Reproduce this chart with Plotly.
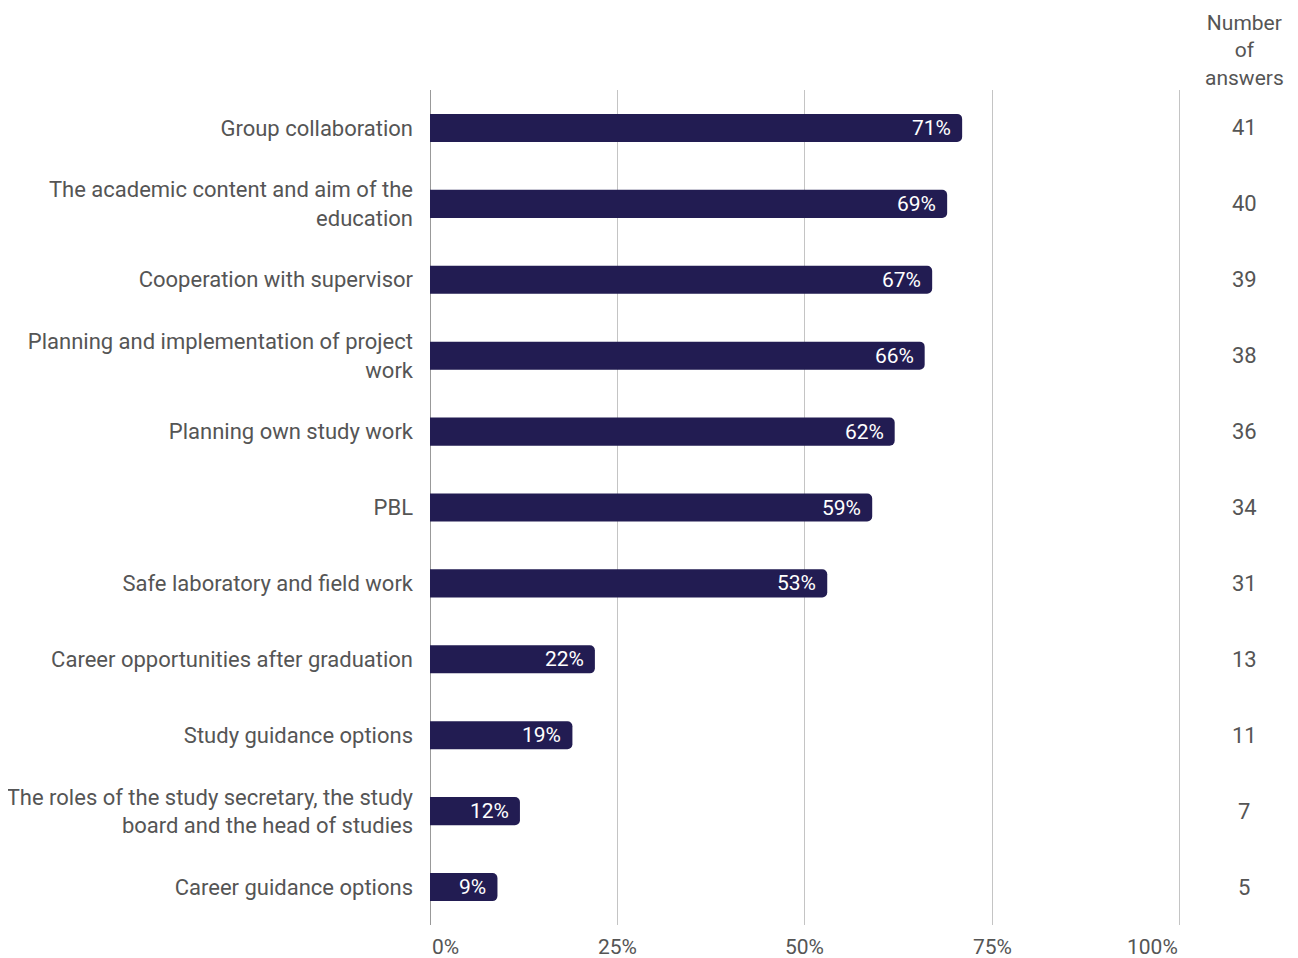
import plotly.graph_objects as go

categories = [
    "Group collaboration",
    "The academic content and aim of the<br>education",
    "Cooperation with supervisor",
    "Planning and implementation of project<br>work",
    "Planning own study work",
    "PBL",
    "Safe laboratory and field work",
    "Career opportunities after graduation",
    "Study guidance options",
    "The roles of the study secretary, the study<br>board and the head of studies",
    "Career guidance options",
]
percent = [71, 69, 67, 66, 62, 59, 53, 22, 19, 12, 9]
answers = [41, 40, 39, 38, 36, 34, 31, 13, 11, 7, 5]
tick_values = [0, 25, 50, 75, 100]
tick_labels = ["0%", "25%", "50%", "75%", "100%"]

BAR = "#221c52"
GREY = "#555555"
GRID = "#c4c4c4"
FONT = "Roboto"

fig = go.Figure()
fig.add_trace(go.Bar(
    x=percent, y=categories, orientation="h",
    marker=dict(color=BAR, cornerradius=5, line=dict(width=0)),
    width=0.37, hoverinfo="skip",
))

ann = []
for c, p, n in zip(categories, percent, answers):
    ann.append(dict(x=p, y=c, xref="x", yref="y", text=f"{p}%", showarrow=False,
                    xanchor="right", xshift=-9, font=dict(family=FONT, size=21, color="white")))
    ann.append(dict(x=1, y=c, xref="paper", yref="y", text=str(n), showarrow=False,
                    xanchor="center", xshift=63, font=dict(family=FONT, size=22, color=GREY)))
for i, (v, t) in enumerate(zip(tick_values, tick_labels)):
    anchor = "left" if i == 0 else ("right" if i == len(tick_values) - 1 else "center")
    ann.append(dict(x=v, y=0, xref="x", yref="paper", text=t, showarrow=False,
                    xanchor=anchor, yanchor="top", yshift=-8,
                    font=dict(family=FONT, size=21, color=GREY)))
ann.append(dict(x=1, y=1, xref="paper", yref="paper", text="Number<br>of<br>answers",
                showarrow=False, xanchor="center", yanchor="bottom", xshift=63, yshift=-2,
                align="center", font=dict(family=FONT, size=21, color=GREY)))

fig.update_layout(
    width=1290, height=950,
    margin=dict(l=422, r=117, t=82, b=33),
    plot_bgcolor="white", paper_bgcolor="white",
    showlegend=False,
    font=dict(family=FONT, size=22, color=GREY),
    annotations=ann,
    xaxis=dict(range=[0, 100.2], tickvals=tick_values, showticklabels=False,
               showgrid=True, gridcolor=GRID, gridwidth=1,
               zeroline=True, zerolinecolor="#999999", zerolinewidth=1,
               showline=False, fixedrange=True, automargin=False),
    yaxis=dict(categoryorder="array", categoryarray=categories, autorange=False,
               range=[len(categories) - 0.5, -0.5], showgrid=False, zeroline=False,
               showline=False, ticks="", ticklabelstandoff=16, automargin=False,
               tickfont=dict(family=FONT, size=22, color=GREY)),
)

fig.write_html("out.html")
